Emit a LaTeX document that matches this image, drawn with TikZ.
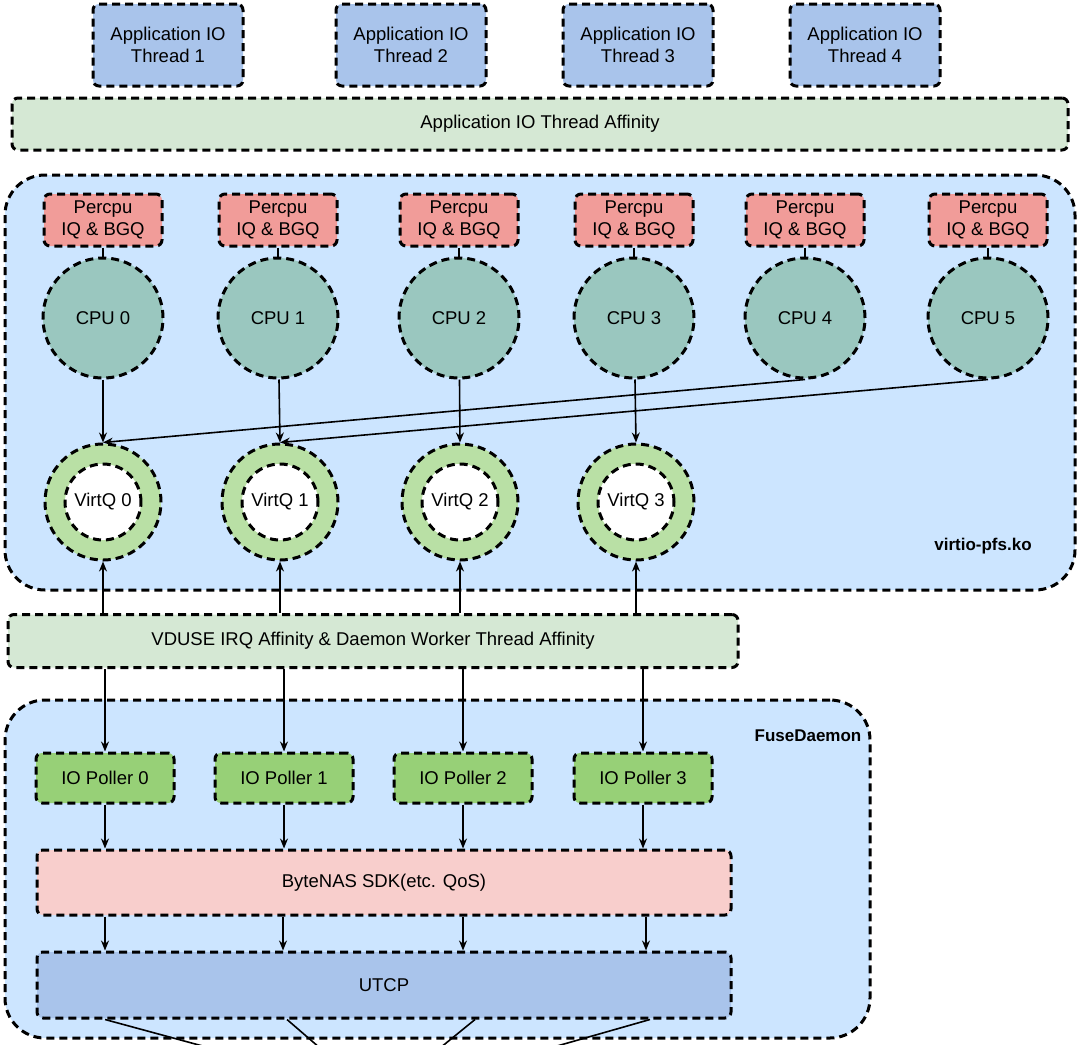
\documentclass[tikz,border=0pt]{standalone}
\usepackage{fontspec}
\setmainfont{Liberation Sans}
\usetikzlibrary{arrows.meta,calc}
\definecolor{appblue}{HTML}{A9C4EB}
\definecolor{affgreen}{HTML}{D5E8D4}
\definecolor{regblue}{HTML}{CCE5FF}
\definecolor{qred}{HTML}{F19C99}
\definecolor{cputeal}{HTML}{9AC7BF}
\definecolor{ringgreen}{HTML}{B9E0A5}
\definecolor{pollgreen}{HTML}{97D077}
\definecolor{sdkpink}{HTML}{F8CECC}
\tikzset{
  dashbox/.style={draw=black,line width=3pt,dash pattern=on 8pt off 5pt,rounded corners=6pt,
    font=\fontsize{18.5}{22}\selectfont,align=center,inner sep=0pt},
  dashcirc/.style={draw=black,line width=3pt,dash pattern=on 8pt off 5pt,circle,
    font=\fontsize{18.5}{22}\selectfont,inner sep=0pt},
  flow/.style={-{Stealth[length=10pt,width=8pt]},line width=1.6pt}
}
\begin{document}
\begin{tikzpicture}[x=1pt,y=-1pt]
      \useasboundingbox (0,0) rectangle (1080,1045);

      % regions
      \node[dashbox,fill=regblue,rounded corners=40pt,minimum width=1070,minimum height=415] (kmod) at (540,382.5) {};
      \node[font=\fontsize{17}{20}\selectfont\bfseries] (kmodlbl) at (983,546) {virtio-pfs.ko};
      \node[dashbox,fill=regblue,rounded corners=40pt,minimum width=865,minimum height=338] (fuse) at (437.5,869) {};
      \node[font=\fontsize{17}{20}\selectfont\bfseries] (fuselbl) at (808,736) {FuseDaemon};

      % application threads
      \foreach \i/\x in {1/168,2/411,3/638,4/865}
        \node[dashbox,fill=appblue,minimum width=150,minimum height=82] (app\i) at (\x,45) {Application IO\\Thread \i};
      \node[dashbox,fill=affgreen,minimum width=1056,minimum height=52] (appaff) at (540,124) {Application IO Thread Affinity};

      % per-cpu queues and cpus
      \foreach \i/\x in {0/103,1/278,2/459,3/634,4/805,5/988} {
        \node[dashbox,fill=qred,minimum width=118,minimum height=52] (pq\i) at (\x,220) {Percpu\\IQ \& BGQ};
        \node[dashcirc,fill=cputeal,minimum size=120] (cpu\i) at (\x,318) {CPU \i};
        \draw[line width=1.6pt] (pq\i) -- (cpu\i);
      }

      % virtqueues
      \foreach \i/\x in {0/103,1/280,2/460,3/636} {
        \node[dashcirc,fill=ringgreen,minimum size=116] (vq\i) at (\x,502) {};
        \node[dashcirc,fill=white,minimum size=76] (vqin\i) at (\x,502) {VirtQ \i};
      }
      \foreach \i in {0,1,2,3}
        \draw[flow] (cpu\i) -- (vq\i.north);
      \draw[flow] (cpu4.south) -- (vq0.north);
      \draw[flow] (cpu5.south) -- (vq1.north);

      % vduse affinity
      \node[dashbox,fill=affgreen,minimum width=730,minimum height=53] (vduse) at (373,641) {VDUSE IRQ Affinity \& Daemon Worker Thread Affinity};

      % fuse daemon parts
      \foreach \i/\x in {0/105,1/284,2/463,3/643}
        \node[dashbox,fill=pollgreen,minimum width=138,minimum height=50] (poll\i) at (\x,778) {IO Poller \i};
      \node[dashbox,fill=sdkpink,minimum width=694,minimum height=65] (sdk) at (384,882.5) {ByteNAS SDK(etc. QoS)};
      \node[dashbox,fill=appblue,minimum width=694,minimum height=66] (utcp) at (384,985) {UTCP};

      % wires
      \foreach \i/\x in {0/105,1/285,2/463,3/640} {
        \draw[flow] (vduse.north -| vq\i) -- (vq\i.south);
        \draw[flow] (vduse.south -| poll\i) -- (poll\i.north);
        \draw[flow] (poll\i) -- (sdk.north -| poll\i);
      }
      \draw[flow] (sdk.south -| 105,0) -- (utcp.north -| 105,0);
      \draw[flow] (sdk.south -| 283,0) -- (utcp.north -| 283,0);
      \draw[flow] (sdk.south -| 463,0) -- (utcp.north -| 463,0);
      \draw[flow] (sdk.south -| 646,0) -- (utcp.north -| 646,0);

      % links leaving below
      \coordinate (out0) at (210,1048);
      \coordinate (out1) at (320,1048);
      \coordinate (out2) at (440,1048);
      \coordinate (out3) at (550,1048);
      \draw[line width=1.6pt] (utcp.south -| 105,0) -- (out0);
      \draw[line width=1.6pt] (utcp.south -| 287,0) -- (out1);
      \draw[line width=1.6pt] (utcp.south -| 475,0) -- (out2);
      \draw[line width=1.6pt] (utcp.south -| 650,0) -- (out3);
\end{tikzpicture}
\end{document}
